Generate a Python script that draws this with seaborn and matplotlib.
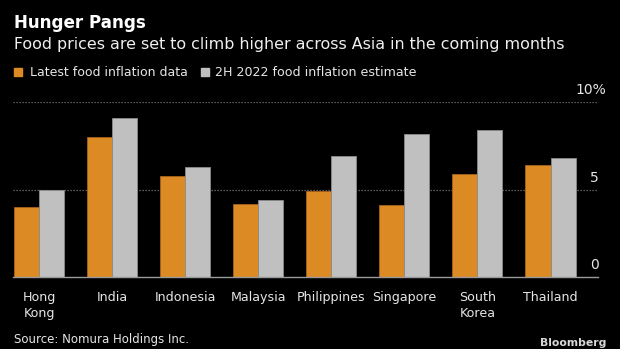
import matplotlib
matplotlib.use("Agg")
import matplotlib.pyplot as plt
import seaborn as sns
import pandas as pd

countries = ["Hong\nKong", "India", "Indonesia", "Malaysia", "Philippines", "Singapore", "South\nKorea", "Thailand"]
latest = [4.0, 8.0, 5.8, 4.2, 4.9, 4.1, 5.9, 6.4]
estimate = [5.0, 9.1, 6.3, 4.4, 6.9, 8.2, 8.4, 6.8]
series_names = ["Latest food inflation data", "2H 2022 food inflation estimate"]
y_ticks = [0, 5, 10]
y_tick_labels = ["0", "5", "10%"]

df = pd.DataFrame({
    "country": countries * 2,
    "value": latest + estimate,
    "series": [series_names[0]] * len(countries) + [series_names[1]] * len(countries),
})

sns.set_theme(style="dark")
FONT = ["DejaVu Sans"]
plt.rcParams["font.family"] = FONT

BG = "#000000"
ORANGE = "#DC8A24"
GRAY = "#C0C0C0"
TXT = "#E6E6E6"
W, H = 620, 349

fig = plt.figure(figsize=(6.2, 3.49), dpi=100, facecolor=BG)
ax = fig.add_axes([13/W, 1 - 277/H, (598-13)/W, (277-102)/H])
ax.set_facecolor(BG)

sns.barplot(data=df, x="country", y="value", hue="series", palette=[ORANGE, GRAY],
            width=0.685, gap=0, ax=ax, legend=False, saturation=1,
            edgecolor="#8c8c8c", linewidth=0.6)
for p in ax.patches[:len(countries)]:
    p.set_edgecolor("#a8621a")

ax.set_xlim(-0.356, 7.65)
ax.set_ylim(0, 10)
ax.set_xlabel("")
ax.set_ylabel("")
ax.set_yticks([])
for t in y_ticks[1:]:
    ax.axhline(t, color="#777777", lw=0.9, ls=(0, (1.0, 1.4)), zorder=0)

for s in ["top", "right", "left"]:
    ax.spines[s].set_visible(False)
ax.spines["bottom"].set_color("#9a9a9a")
ax.spines["bottom"].set_linewidth(1)
ax.tick_params(axis="x", colors="#9a9a9a", length=5, width=1, direction="out", pad=5)

renderer = fig.canvas.get_renderer()

def px(x, y):
    return x / W, 1 - y / H

def fit(t, width):
    w = t.get_window_extent(renderer).width
    t.set_fontsize(t.get_fontsize() * width / w)
    return t

# y labels (placed above gridlines, right-aligned)
for t, lab in zip(y_ticks, y_tick_labels):
    ybase = 277 - (277 - 102) * t / 10 - 8
    xr = 606 if lab.endswith("%") else 599
    fig.text(*px(xr, ybase), lab, ha="right", va="baseline", color=TXT, fontsize=10)

# x tick labels fitted to reference width
probe = fig.text(0, 0, "Indonesia", fontsize=10)
fit(probe, 61)
xfs = probe.get_fontsize()
probe.remove()
for lab in ax.get_xticklabels():
    lab.set_color(TXT)
    lab.set_fontsize(xfs)
    lab.set_linespacing(1.3)

title = fig.text(*px(14, 28), "Hunger Pangs", color="#FFFFFF", fontsize=12, fontweight="bold",
                 va="baseline", ha="left")
fit(title, 132)
sub = fig.text(*px(14, 48.5), "Food prices are set to climb higher across Asia in the coming months",
               color="#F0F0F0", fontsize=12, va="baseline", ha="left")
fit(sub, 546)

# legend
fig.patches.append(plt.Rectangle(px(14, 76), 8/W, 8/H, transform=fig.transFigure,
                                 color=ORANGE, figure=fig))
l1 = fig.text(*px(29.6, 76.3), series_names[0], color=TXT, fontsize=10, va="baseline", ha="left")
fit(l1, 158)
fig.patches.append(plt.Rectangle(px(201, 76), 8/W, 8/H, transform=fig.transFigure,
                                 color=GRAY, figure=fig))
l2 = fig.text(*px(214.6, 76.3), series_names[1], color=TXT, fontsize=10, va="baseline", ha="left")
fit(l2, 200)

src = fig.text(*px(13.8, 343.3), "Source: Nomura Holdings Inc.", color=TXT, fontsize=10,
               va="baseline", ha="left")
fit(src, 175)
bb = fig.text(*px(606, 345.5), "Bloomberg", color="#D8D8D8", fontsize=9, fontweight="bold",
              va="baseline", ha="right")
fit(bb, 66)

fig.savefig("out.png", dpi=100, facecolor=BG)
